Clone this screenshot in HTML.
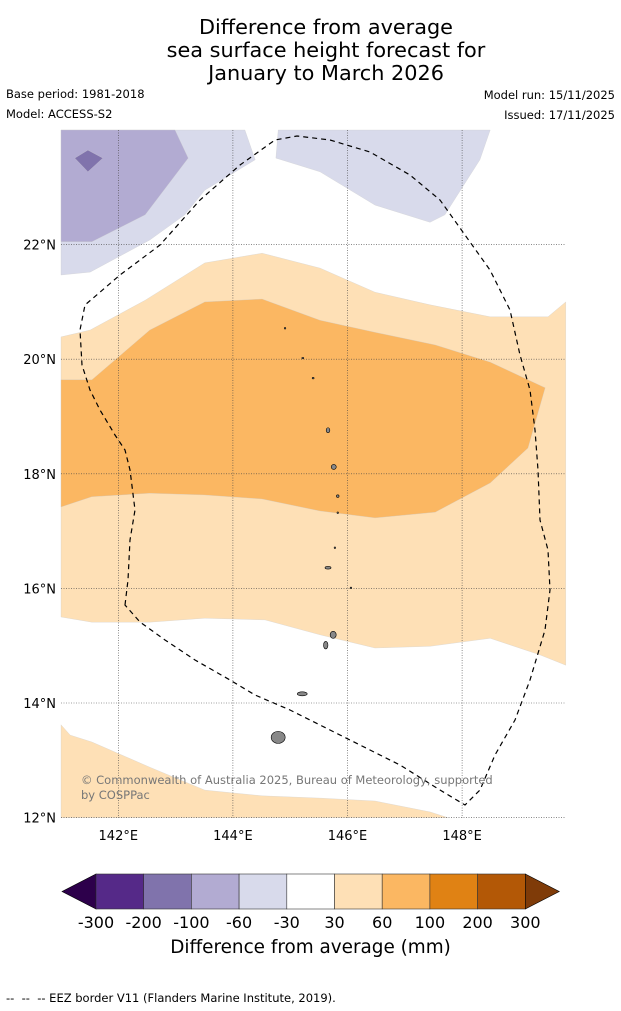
<!DOCTYPE html>
<html><head><meta charset="utf-8"><style>
body{margin:0;background:#fff;font-family:"DejaVu Sans","Liberation Sans",sans-serif;}
#wrap{position:relative;width:621px;height:1011px;overflow:hidden;}
.t{position:absolute;white-space:nowrap;}
svg text{font-family:"DejaVu Sans","Liberation Sans",sans-serif;}
</style></head><body>
<div id="wrap">
<div class="t" style="left:0;width:652px;top:16px;text-align:center;font-size:20.8px;line-height:23px;color:#000;">Difference from average<br>sea surface height forecast for<br>January to March 2026</div>
<div class="t" style="left:6px;top:87px;font-size:11.5px;">Base period: 1981-2018</div>
<div class="t" style="left:6px;top:107px;font-size:11.5px;">Model: ACCESS-S2</div>
<div class="t" style="right:6px;top:88px;font-size:11.5px;">Model run: 15/11/2025</div>
<div class="t" style="right:6px;top:108px;font-size:11.5px;">Issued: 17/11/2025</div>
<svg id="map" width="621" height="1011" style="position:absolute;left:0;top:0"></svg>
<div class="t" style="left:81px;top:773px;font-size:11.5px;color:#777;line-height:15px;">© Commonwealth of Australia 2025, Bureau of Meteorology, supported<br>by COSPPac</div>
<div class="t" style="left:0;width:621px;text-align:center;top:937px;font-size:18.4px;">Difference from average (mm)</div>
<div class="t" style="left:6px;top:991px;font-size:11.5px;">-- &nbsp;-- &nbsp;-- EEZ border V11 (Flanders Marine Institute, 2019).</div>
</div>
<script>
const lonTicks=[142,144,146,148];
const latTicks=[22,20,18,16,14,12];
const cbLevels=[-300,-200,-100,-60,-30,30,60,100,200,300];
const cbColors=["#552988","#8073ac","#b2abd2","#d8daeb","#ffffff","#fee0b6","#fbb762","#e08214","#b35806"];
const lightPurple=[[141.0,24.0],[141.0,21.47],[141.51,21.52],[142.55,22.08],[143.16,22.52],[143.51,22.95],[144.39,23.48],[144.21,24.0]];
const lightPurple2=[[144.79,24.0],[144.75,23.51],[145.52,23.27],[146.48,22.69],[147.44,22.39],[147.70,22.52],[148.31,23.48],[148.49,24.0]];
const midPurple=[[141.0,24.0],[141.0,22.05],[141.54,22.05],[142.47,22.52],[143.22,23.51],[142.99,24.0]];
const darkPurple=[[141.24,23.51],[141.47,23.65],[141.73,23.51],[141.47,23.27]];
const lightOrange=[[141.0,20.39],[141.51,20.51],[142.47,21.03],[143.51,21.68],[144.51,21.85],[145.52,21.59],[146.48,21.17],[147.44,20.95],[148.49,20.74],[149.50,20.74],[149.81,21.0],[149.81,14.66],[149.36,14.84],[148.49,15.13],[147.44,14.99],[146.48,14.96],[145.52,15.19],[144.56,15.45],[143.51,15.48],[142.55,15.41],[141.54,15.41],[141.0,15.50]];
const orange=[[141.0,19.64],[141.54,19.64],[142.55,20.51],[143.51,21.0],[144.51,21.05],[145.52,20.68],[146.48,20.47],[147.53,20.25],[148.49,19.95],[149.45,19.50],[149.15,18.45],[148.49,17.84],[147.53,17.33],[146.48,17.23],[145.52,17.35],[144.51,17.56],[143.51,17.63],[142.55,17.66],[141.54,17.60],[141.0,17.42]];
const lightOrange2=[[141.0,13.62],[141.16,13.44],[141.54,13.32],[142.55,12.88],[143.51,12.48],[144.51,12.38],[145.52,12.34],[146.48,12.29],[147.44,12.10],[147.75,12.0],[141.0,12.0]];
const islands=[[144.91,20.54,0.8,0.8],[145.22,20.02,1,0.8],[145.40,19.67,1,0.8],[145.66,18.76,1.8,2.5],[145.76,18.12,2.5,2.5],[145.83,17.61,1.3,1.3],[145.83,17.32,0.8,0.8],[145.78,16.71,0.8,0.8],[145.66,16.36,3,1.3],[146.06,16.01,0.8,0.8],[145.75,15.19,3,3.5],[145.62,15.01,2.2,3.8],[145.21,14.16,5,2],[144.79,13.40,7,6]];
const svg=document.getElementById('map');
const NS='http://www.w3.org/2000/svg';
const X=lon=>61+(lon-141)*57.3;
const Y=lat=>130+(24-lat)*57.3;
function mk(t,a){const e=document.createElementNS(NS,t);for(const k in a)e.setAttribute(k,a[k]);svg.appendChild(e);return e;}
function poly(pts,fill,name){const e=mk('polygon',{points:pts.map(p=>X(p[0]).toFixed(1)+','+Y(p[1]).toFixed(1)).join(' '),fill:fill,stroke:'#ccc','stroke-width':0.3});

}
poly(lightPurple,cbColors[3],'contour-minus60-minus30');
poly(lightPurple2,cbColors[3],'contour-minus60-minus30-east');
poly(midPurple,cbColors[2],'contour-minus100-minus60');
poly(darkPurple,cbColors[1],'contour-minus200-minus100');
poly(lightOrange,cbColors[5],'contour-30-60');
poly(orange,cbColors[6],'contour-60-100');
poly(lightOrange2,cbColors[5],'contour-30-60-south');
lonTicks.forEach(l=>{const x=X(l);const g=mk('line',{x1:x,x2:x,y1:130,y2:818,stroke:'#444','stroke-width':0.6,'stroke-dasharray':'1,1.5'});


const t=mk('text',{x:x,y:840,'text-anchor':'middle','font-size':13});t.textContent=l+'°E';

});
latTicks.forEach(l=>{const y=Y(l);const g=mk('line',{x1:61,x2:566,y1:y,y2:y,stroke:'#444','stroke-width':0.6,'stroke-dasharray':'1,1.5'});


const t=mk('text',{x:56,y:y+5,'text-anchor':'end','font-size':13});t.textContent=l+'°N';

});
islands.forEach(s=>{const e=mk('ellipse',{cx:X(s[0]),cy:Y(s[1]),rx:s[2],ry:s[3],fill:'#888',stroke:'#000','stroke-width':0.6});

});
const eez=mk('path',{d:'M125,605 L128,580 130,540 135,510 130,470 125,450 115,435 100,410 90,390 82,365 80,330 85,305 120,275 160,245 200,200 240,165 275,140 297,136 330,140 370,152 410,175 440,200 465,235 490,270 510,310 520,355 530,390 535,430 538,470 540,520 548,550 550,590 545,630 530,680 515,720 495,755 480,790 465,805 440,790 400,765 370,750 330,730 290,710 255,695 230,680 195,660 165,640 140,622 Z',fill:'none',stroke:'#000','stroke-width':1.2,'stroke-dasharray':'5,4'});


const cx0=96,cw=47.7,cy=874,ch=35;
const lt=mk('polygon',{points:`62,${cy+ch/2} ${cx0},${cy} ${cx0},${cy+ch}`,fill:'#2d004b',stroke:'#000','stroke-width':0.6});


cbColors.forEach((c,i)=>{const b=mk('rect',{x:cx0+i*cw,y:cy,width:cw,height:ch,fill:c,stroke:'#333','stroke-width':0.6});

});
const xe=cx0+cbColors.length*cw;
const rt=mk('polygon',{points:`${xe},${cy} ${xe+34},${cy+ch/2} ${xe},${cy+ch}`,fill:'#7f3b08',stroke:'#000','stroke-width':0.6});


cbLevels.forEach((v,i)=>{const t=mk('text',{x:cx0+i*cw,y:928,'text-anchor':'middle','font-size':16});t.textContent=v;

});
</script>
</body></html>
